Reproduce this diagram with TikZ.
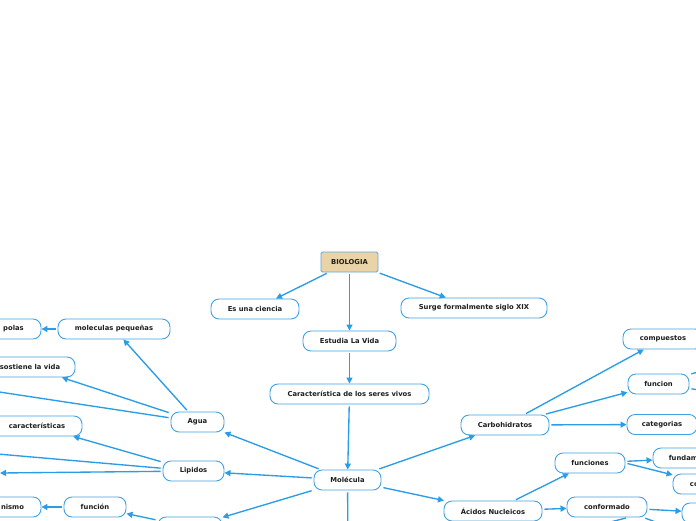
\documentclass[tikz,border=0pt]{standalone}
\usepackage{fontspec}
\setmainfont{DejaVu Sans}
\usetikzlibrary{arrows.meta}
\definecolor{lineblue}{HTML}{2A9DE6}
\definecolor{boxblue}{HTML}{3FA2E2}
\definecolor{rootfill}{HTML}{E9D3A7}
\definecolor{rootborder}{HTML}{62A9DA}
\definecolor{txt}{HTML}{1E1E1E}
\begin{document}
\begin{tikzpicture}[x=1pt,y=-1pt,
  box/.style={draw=boxblue, line width=0.9pt, rounded corners=8pt, fill=white,
    minimum height=20pt, inner sep=0pt, text=txt,
    font=\fontsize{6.8}{8}\selectfont\bfseries},
  rootbox/.style={box, draw=rootborder, fill=rootfill, rounded corners=1.5pt},
  conn/.style={draw=lineblue, line width=1.35pt, shorten <=2pt,
    -{Triangle[length=6pt,width=6pt]}},
  plain/.style={draw=lineblue, line width=1.35pt, shorten <=2pt}]
\fill[white] (0,0) rectangle (696,520);
\useasboundingbox (0,0) rectangle (696,520);

% top part
\node[rootbox, minimum width=57pt] (bio) at (349.5,262) {BIOLOGIA};
\node[box, minimum width=88pt] (ciencia) at (255,309) {Es una ciencia};
\node[box, minimum width=146pt] (surge) at (474,308) {Surge formalmente siglo XIX};
\node[box, minimum width=93pt] (estudia) at (349.5,341) {Estudia La Vida};
\node[box, minimum width=159pt] (caract) at (349.5,394) {Característica de los seres vivos};
\node[box, minimum width=67pt] (mol) at (347.5,480) {Molécula};

% left part
\node[box, minimum width=53pt] (agua) at (197.5,422) {Agua};
\node[box, minimum width=61pt] (lip) at (193.5,471) {Lipidos};
\node[box, minimum width=112pt] (molpeq) at (114,329) {moleculas pequeñas};
\node[box, minimum width=55pt] (polas) at (13.5,329) {polas};
\node[box, minimum width=90pt] (sost) at (30,367) {sostiene la vida};
\node[box, minimum width=90pt] (caracts) at (37,426) {características};
\node[box, minimum width=57pt] (nismo) at (12.5,507) {nismo};
\node[box, minimum width=62pt] (funcion) at (95,507) {función};
\node[box, minimum width=64pt] (bottom) at (190,527) {};
\coordinate (offA) at (-60,383);
\coordinate (offB) at (-60,449);
\coordinate (offC) at (0,473);
\coordinate (offD) at (348,545);

% right part
\node[box, minimum width=88pt] (carbo) at (505,425) {Carbohidratos};
\node[box, minimum width=80pt] (comp) at (663,339) {compuestos};
\node[box, minimum width=61pt] (func) at (658.5,384) {funcion};
\node[box, minimum width=70pt] (categ) at (662,424.5) {categorias};
\node[box, minimum width=98pt] (acidos) at (493,511) {Ácidos Nucleicos};
\node[box, minimum width=70pt] (funciones) at (590,463) {funciones};
\node[box, minimum width=89pt] (fund) at (697.5,458) {fundamentales};
\node[box, minimum width=72pt] (co) at (709,484) {contienen};
\node[box, minimum width=80pt] (conf) at (607,507) {conformado};
\node[box, minimum width=64pt] (conf2) at (714,513) {};
\coordinate (offE) at (740,359);
\coordinate (offF) at (740,396);
\coordinate (offG) at (560,535);
\coordinate (offH) at (690,535);

% connectors top
\draw[conn] (bio) -- (ciencia);
\draw[conn] (bio) -- (estudia);
\draw[conn] (bio) -- (surge);
\draw[conn] (estudia) -- (caract);
\draw[conn] (caract) -- (mol);
\draw[plain] (mol) -- (offD);

% connectors left
\draw[conn] (mol) -- (agua);
\draw[conn] (mol) -- (lip);
\draw[conn] (mol) -- (bottom);
\draw[conn] (agua) -- (molpeq);
\draw[conn] (agua) -- (sost);
\draw[plain] (agua) -- (offA);
\draw[conn] (molpeq) -- (polas);
\draw[conn] (lip) -- (caracts);
\draw[plain] (lip) -- (offB);
\draw[conn] (lip) -- (offC);
\draw[conn] (bottom) -- (funcion);
\draw[conn] (funcion) -- (nismo);

% connectors right
\draw[conn] (mol) -- (carbo);
\draw[conn] (mol) -- (acidos);
\draw[conn] (carbo) -- (comp);
\draw[conn] (carbo) -- (func);
\draw[conn] (carbo) -- (categ);
\draw[plain] (func) -- (offE);
\draw[plain] (func) -- (offF);
\draw[conn] (acidos) -- (funciones);
\draw[conn] (acidos) -- (conf);
\draw[conn] (funciones) -- (fund);
\draw[conn] (funciones.east) -- (co);
\draw[conn] (conf) -- (conf2);
\draw[plain] ([xshift=21pt]conf.south) -- (offG);
\draw[plain] ([xshift=-4pt]conf.south east) -- (offH);
\end{tikzpicture}
\end{document}
